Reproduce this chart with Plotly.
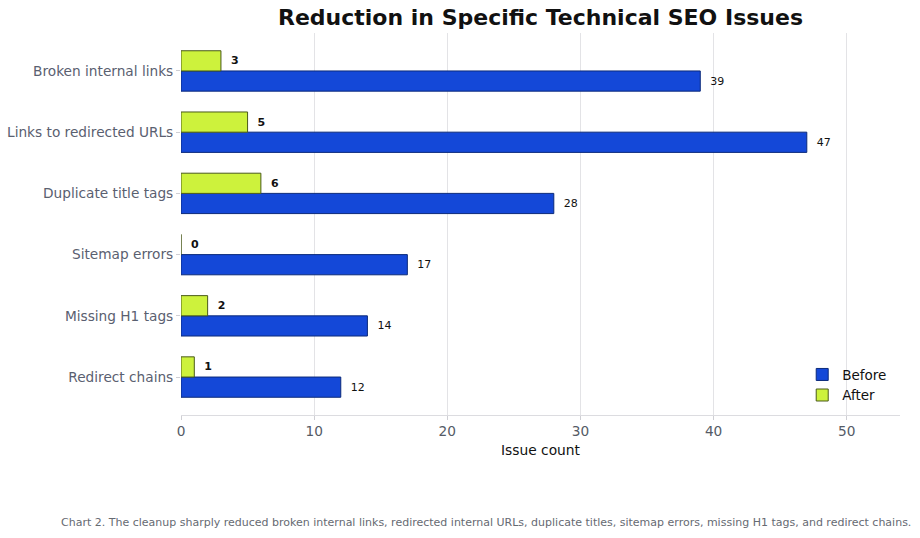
import plotly.graph_objects as go

categories = ["Broken internal links", "Links to redirected URLs", "Duplicate title tags",
              "Sitemap errors", "Missing H1 tags", "Redirect chains"]
before = [39, 47, 28, 17, 14, 12]
after = [3, 5, 6, 0, 2, 1]

title = "Reduction in Specific Technical SEO Issues"
caption = ("Chart 2. The cleanup sharply reduced broken internal links, redirected internal URLs, "
           "duplicate titles, sitemap errors, missing H1 tags, and redirect chains.")

cats_bt = categories[::-1]
before_bt = before[::-1]
after_bt = after[::-1]

FONT = "DejaVu Sans"

fig = go.Figure()
fig.add_trace(go.Bar(
    y=cats_bt, x=before_bt, orientation="h", name="Before",
    marker=dict(color="#1448D8", line=dict(color="#0B2A7A", width=1)),
    text=["  " + str(v) for v in before_bt], textposition="outside",
    textfont=dict(family=FONT, size=11, color="#111111"), cliponaxis=False,
))
fig.add_trace(go.Bar(
    y=cats_bt, x=after_bt, orientation="h", name="After",
    marker=dict(color="#CDF23C", line=dict(color="#4A5A1A", width=1)),
    text=["  <b>" + str(v) + "</b>" for v in after_bt], textposition="outside",
    textfont=dict(family=FONT, size=11, color="#111111"), cliponaxis=False,
))

fig.update_layout(
    width=920, height=538,
    margin=dict(l=181, r=20, t=33, b=123),
    paper_bgcolor="white", plot_bgcolor="white",
    barmode="group", bargap=0.34, bargroupgap=0,
    font=dict(family=FONT, color="#555b66"),
    title=dict(text="<b>" + title + "</b>", x=0.5, xref="paper", xanchor="center",
               y=0.967, yref="container", yanchor="middle",
               font=dict(family=FONT, size=22, color="#111111")),
    legend=dict(x=0.864, y=0.01, xanchor="left", yanchor="bottom",
                font=dict(family=FONT, size=13.5, color="#111111"),
                bgcolor="rgba(255,255,255,0)", traceorder="normal",
                itemwidth=30, tracegroupgap=2),
    showlegend=True,
)
fig.update_xaxes(
    range=[0, 54], tickvals=[0, 10, 20, 30, 40, 50],
    showgrid=True, gridcolor="#e3e3e6", gridwidth=1,
    zeroline=False, showline=True, linecolor="#dcdce0", linewidth=1,
    ticks="outside", ticklen=4, tickcolor="#cfcfd4", automargin=False,
    tickfont=dict(family=FONT, size=13.7, color="#555b66"),
    title=dict(text="Issue count", font=dict(family=FONT, size=13.8, color="#111111"), standoff=6),
)
fig.update_yaxes(
    categoryorder="array", categoryarray=cats_bt, range=[-0.62, 5.62],
    showgrid=False, showline=False, zeroline=False, automargin=False,
    ticks="outside", ticklen=4, tickcolor="#cfcfd4",
    tickfont=dict(family=FONT, size=13.7, color="#5a6070"),
)
fig.add_annotation(
    text=caption, xref="paper", yref="paper", x=1.018, y=-0.281,
    xanchor="right", yanchor="middle", showarrow=False,
    font=dict(family=FONT, size=11, color="#666a72"),
)

fig.write_html("out.html")
